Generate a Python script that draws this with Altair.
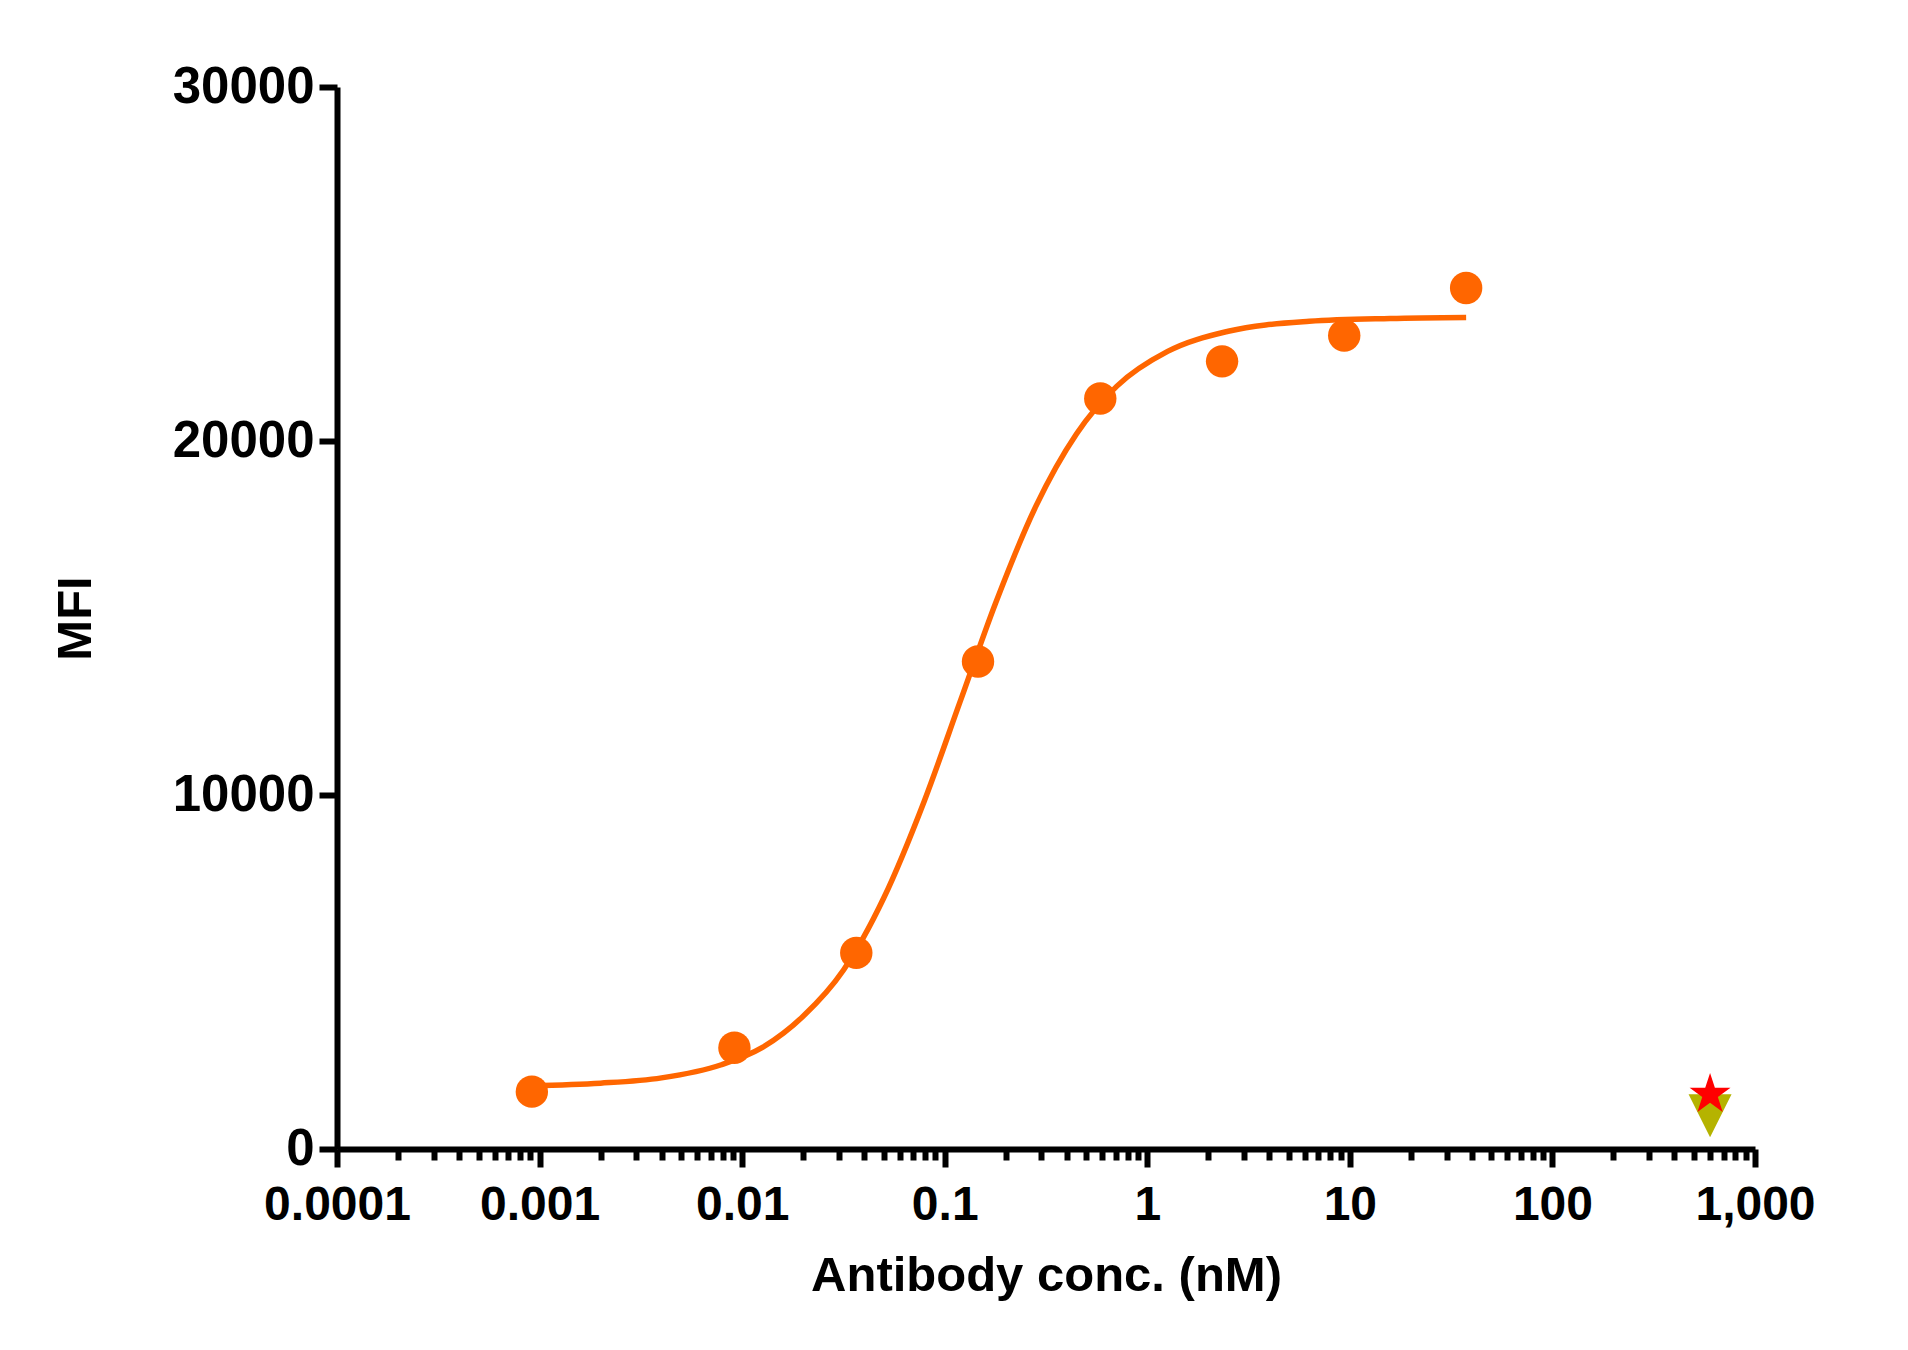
"""
Binding curve: MFI vs antibody concentration (log scale)
"""
import pandas as pd
import altair as alt

# Measured points (orange dots)
conc = [0.000916, 0.00916, 0.0366, 0.146, 0.586, 2.34, 9.38, 37.5]
mfi = [1620, 2860, 5540, 13770, 21200, 22250, 22980, 24320]

# Fitted curve
curve_conc = [0.0009, 0.002, 0.004, 0.0079, 0.0126, 0.02, 0.0316, 0.05, 0.0794,
              0.119, 0.178, 0.282, 0.447, 0.708, 1.26, 2.51, 6.31, 15.8, 37.5]
curve_mfi = [1790, 1860, 2010, 2380, 2870, 3750, 5050, 7090, 9840,
             12630, 15410, 18160, 20200, 21550, 22530, 23100, 23380, 23460, 23490]

# Controls at the top concentration
ctrl_conc = [600, 600]
ctrl_mfi = [940, 1540]
ctrl_name = ['triangle', 'star']

# Axis ticks
decades = [0.0001, 0.001, 0.01, 0.1, 1, 10, 100, 1000]
minor_mult = [2, 3, 4, 5, 6, 7, 8, 9]
x_ticks = decades + [m * d for d in decades[:-1] for m in minor_mult]
y_ticks = [0, 10000, 20000, 30000]

points = pd.DataFrame({'conc': conc, 'mfi': mfi})
curve = pd.DataFrame({'conc': curve_conc, 'mfi': curve_mfi})
ctrl = pd.DataFrame({'conc': ctrl_conc, 'mfi': ctrl_mfi, 'kind': ctrl_name})

ORANGE = '#FF6600'
is_decade = 'abs(log(datum.value)/LN10 - round(log(datum.value)/LN10)) < 0.001'

x_enc = alt.X('conc:Q',
              title='Antibody conc. (nM)',
              scale=alt.Scale(type='log', domain=[0.0001, 1000], nice=False),
              axis=alt.Axis(values=x_ticks,
                            labelExpr=f"{is_decade} ? format(datum.value, ',') : ''",
                            tickSize={'condition': {'test': is_decade, 'value': 18}, 'value': 11},
                            labelPadding=14, titlePadding=22, labelOverlap=False,
                            labelFlush=False))
y_enc = alt.Y('mfi:Q',
              title='MFI',
              scale=alt.Scale(domain=[0, 30000], nice=False),
              axis=alt.Axis(values=y_ticks, format='d', tickSize=18,
                            labelFontSize=51, labelPadding=5, titlePadding=72))

line = alt.Chart(curve).mark_line(color=ORANGE, strokeWidth=5.5,
                                  interpolate='monotone').encode(x=x_enc, y=y_enc)

dots = alt.Chart(points).mark_point(filled=True, color=ORANGE, size=1050,
                                    opacity=1, shape='circle').encode(x='conc:Q', y='mfi:Q')

tri = alt.Chart(ctrl[ctrl['kind'] == 'triangle']).mark_point(
    filled=True, color='#B5B300', opacity=1, size=1850,
    shape='M-1,-1L1,-1L0,1Z'
).encode(x='conc:Q', y='mfi:Q')

star = alt.Chart(ctrl[ctrl['kind'] == 'star']).mark_point(
    filled=True, color='#FF0000', opacity=1, size=1850,
    shape='M0,-1L0.225,-0.309L0.951,-0.309L0.363,0.118L0.588,0.809L0,0.382'
          'L-0.588,0.809L-0.363,0.118L-0.951,-0.309L-0.225,-0.309Z'
).encode(x='conc:Q', y='mfi:Q')

chart = alt.layer(line, dots, tri, star).properties(
    width=1418,
    height=1062,
    padding={'left': 43, 'top': 53, 'right': 20, 'bottom': 20}
).configure_view(
    strokeWidth=0
).configure_axis(
    grid=False,
    domainColor='black',
    domainWidth=6,
    tickColor='black',
    tickWidth=6,
    labelFont='Liberation Sans',
    labelFontWeight='bold',
    labelFontSize=48,
    labelColor='black',
    titleFont='Liberation Sans',
    titleFontWeight='bold',
    titleFontSize=49,
    titleColor='black'
)

chart.save("out.html", embed_options={"renderer": "svg", "actions": False})
